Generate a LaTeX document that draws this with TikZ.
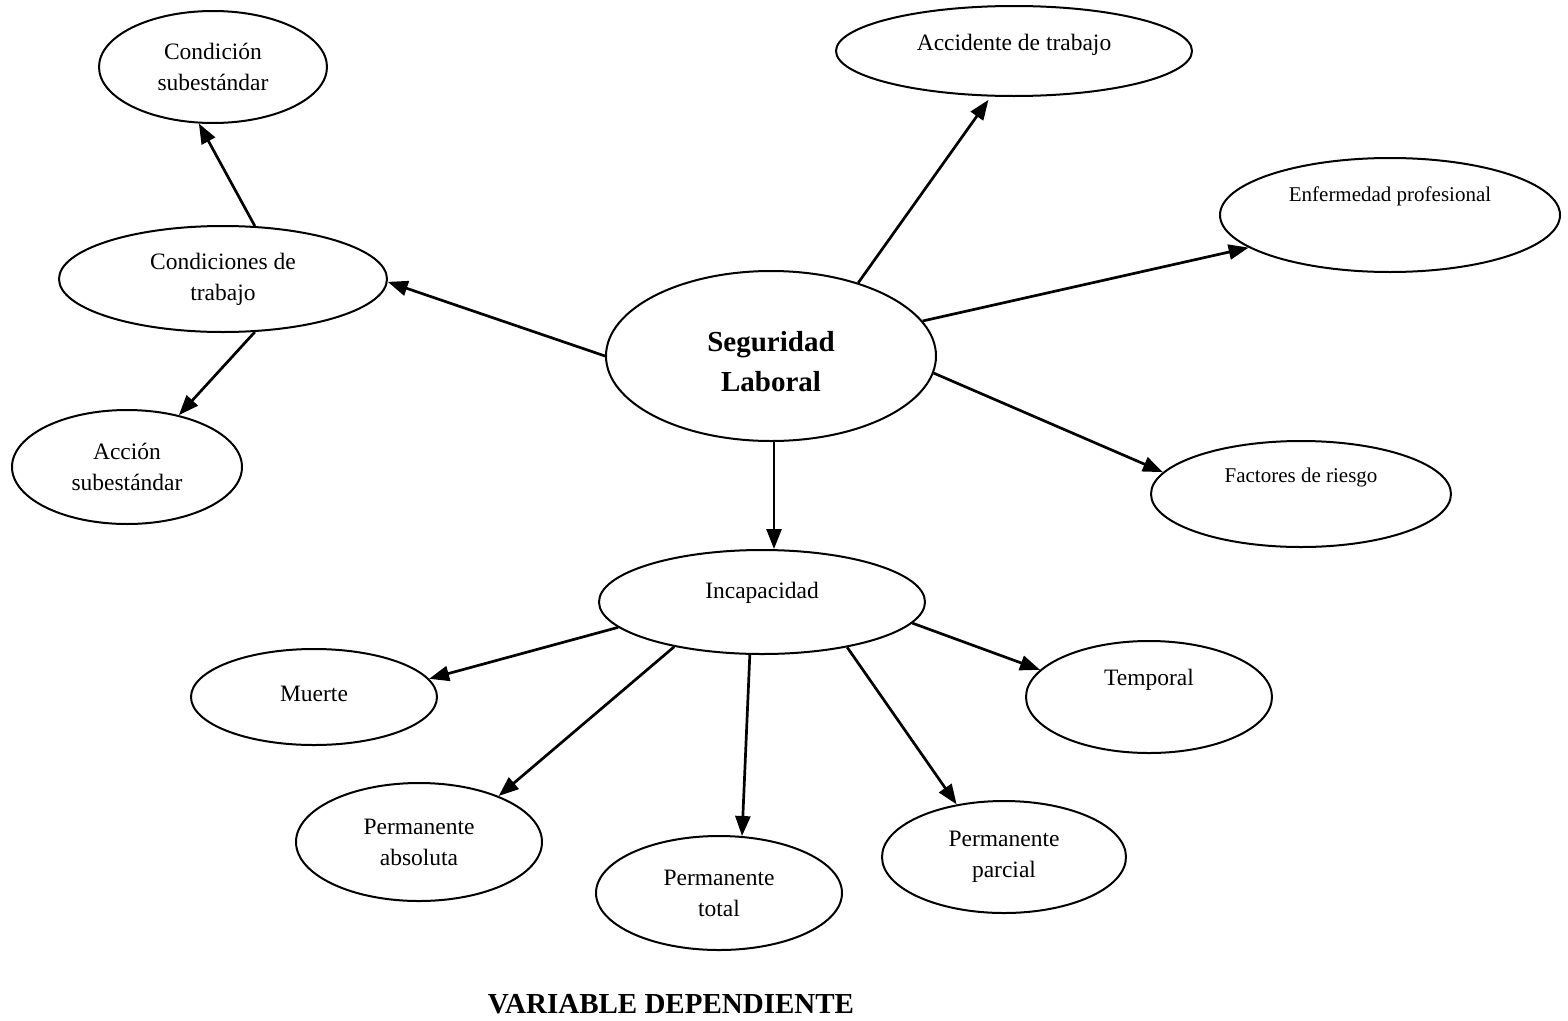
\documentclass[tikz,border=0pt]{standalone}
\usepackage{fontspec}
\setmainfont{Liberation Serif}
\usetikzlibrary{shapes.geometric,arrows.meta}
\begin{document}
\begin{tikzpicture}[x=1pt,y=-1pt,
  ell/.style={draw, ellipse, line width=2pt, inner sep=0pt, align=center,
    font=\fontsize{23.5}{31}\selectfont},
  lab/.style={font=\fontsize{23.5}{31}\selectfont},
  labs/.style={font=\fontsize{21}{28}\selectfont},
  con/.style={line width=2.7pt, -{Triangle[length=20pt,width=15pt]}},
]
\useasboundingbox (0,0) rectangle (1568,1020);

% left branch
\node[ell, minimum width=228, minimum height=112] (cs) at (213,67) {Condición\\subestándar};
\node[ell, minimum width=328, minimum height=106] (ct) at (223,279) {Condiciones de\\trabajo};
\node[ell, minimum width=230, minimum height=114] (as) at (127,467) {Acción\\subestándar};

% centre
\node[ell, minimum width=330, minimum height=170,
      label={[align=center,font=\bfseries\fontsize{29}{40}\selectfont,yshift=-6pt]center:Seguridad\\Laboral}] (sl) at (771,356) {};

% right branch
\node[ell, minimum width=356, minimum height=90,
      label={[lab,yshift=6pt]center:Accidente de trabajo}] (at) at (1014,51) {};
\node[ell, minimum width=340, minimum height=114,
      label={[labs,yshift=19pt]center:Enfermedad profesional}] (ep) at (1390,215) {};
\node[ell, minimum width=300, minimum height=106,
      label={[labs,yshift=17pt]center:Factores de riesgo}] (fr) at (1301,494) {};

% lower branch
\node[ell, minimum width=326, minimum height=104,
      label={[lab,yshift=9pt]center:Incapacidad}] (in) at (762,602) {};
\node[ell, minimum width=246, minimum height=96,
      label={[lab,yshift=3pt]center:Muerte}] (mu) at (314,697) {};
\node[ell, minimum width=246, minimum height=118] (pa) at (419,842) {Permanente\\absoluta};
\node[ell, minimum width=246, minimum height=114] (pt) at (719,893) {Permanente\\total};
\node[ell, minimum width=244, minimum height=112] (pp) at (1004,857) {Permanente\\parcial};
\node[ell, minimum width=246, minimum height=112,
      label={[lab,yshift=17pt]center:Temporal}] (te) at (1149,697) {};

\node[font=\bfseries\fontsize{29}{35}\selectfont] (title) at (671,1004) {VARIABLE DEPENDIENTE};

% connectors
\draw[con] (ct.59) -- (cs.256);
\draw[con] (ct.-59) -- (as.45);
\draw[con] (sl.180) -- (ct.-1);
\draw[con, shorten >=4pt] (sl.40) -- (at.243);
\draw[con] (sl.13) -- (ep.193);
\draw[con] (sl.-6) -- (fr.171);
\draw[con] (sl.-88) -- (sl.-88 |- in.north);
\draw[con] (in.190) -- (mu.9);
\draw[con] (in.207) -- (pa.30);
\draw[con] (in.257) -- (pt.68);
\draw[con] (in.-28) -- (pp.132);
\draw[con] (in.-8) -- (te.166);
\end{tikzpicture}
\end{document}
